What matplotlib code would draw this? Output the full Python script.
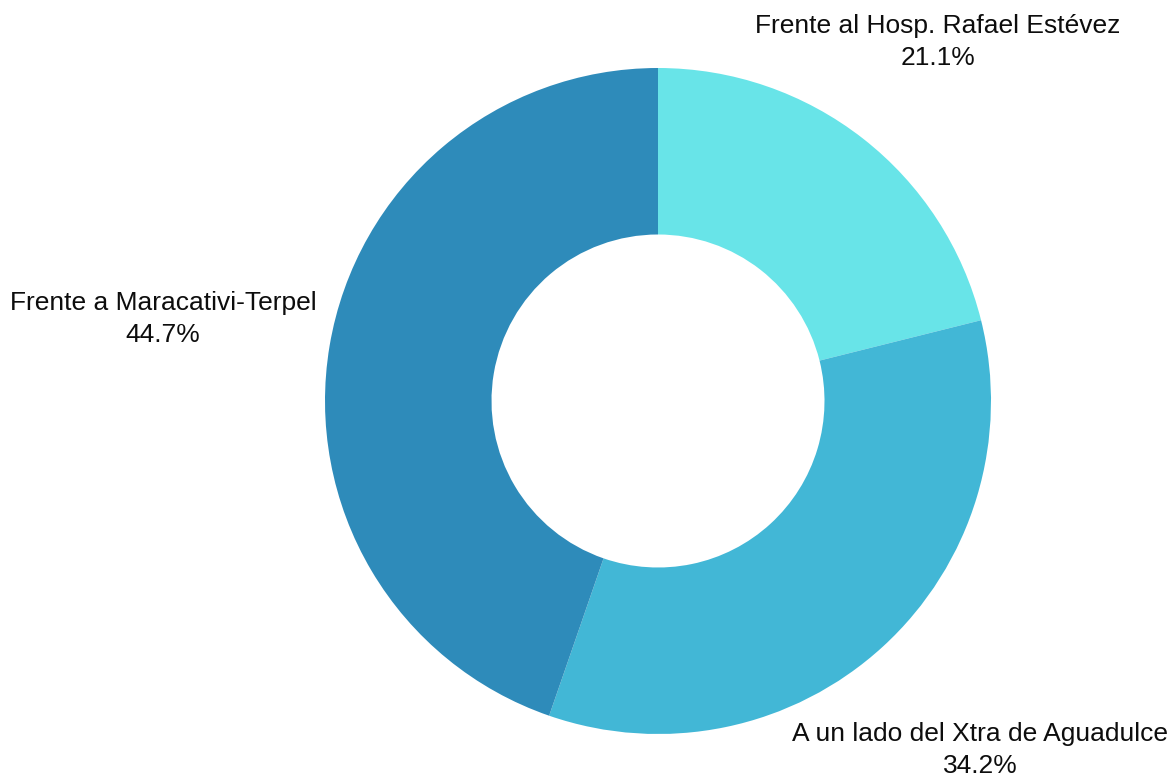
import matplotlib
matplotlib.use("Agg")
import matplotlib.pyplot as plt

labels = ["Frente al Hosp. Rafael Estévez", "A un lado del Xtra de Aguadulce", "Frente a Maracativi-Terpel"]
values = [21.1, 34.2, 44.7]
colors = ["#68E4E8", "#42B7D6", "#2E8BBA"]

W, H = 1169, 778
cx, cy, R = 658, 401, 333

plt.rcParams['font.family'] = ['Liberation Sans', 'DejaVu Sans']
fig = plt.figure(figsize=(W / 100, H / 100), dpi=100)
ax = fig.add_axes([0, 0, 1, 1])
ax.pie(values, colors=colors, startangle=90, counterclock=False, radius=1,
       wedgeprops=dict(width=0.5, linewidth=0))
ax.set_xlim(-cx / R, (W - cx) / R)
ax.set_ylim(-(H - cy) / R, cy / R)
ax.set_aspect('equal')
ax.axis('off')

def px(x, y):
    return (x - cx) / R, (cy - y) / R

label_pos = [(938, 42), (980, 750), (163, 319)]
for lab, v, (x, y) in zip(labels, values, label_pos):
    dx, dy = px(x, y)
    ax.text(dx, dy, f"{lab}\n{v:.1f}%", ha='center', va='center', fontsize=19,
            linespacing=1.4, color='#0d0d0d')

fig.savefig("out.png", dpi=100)
